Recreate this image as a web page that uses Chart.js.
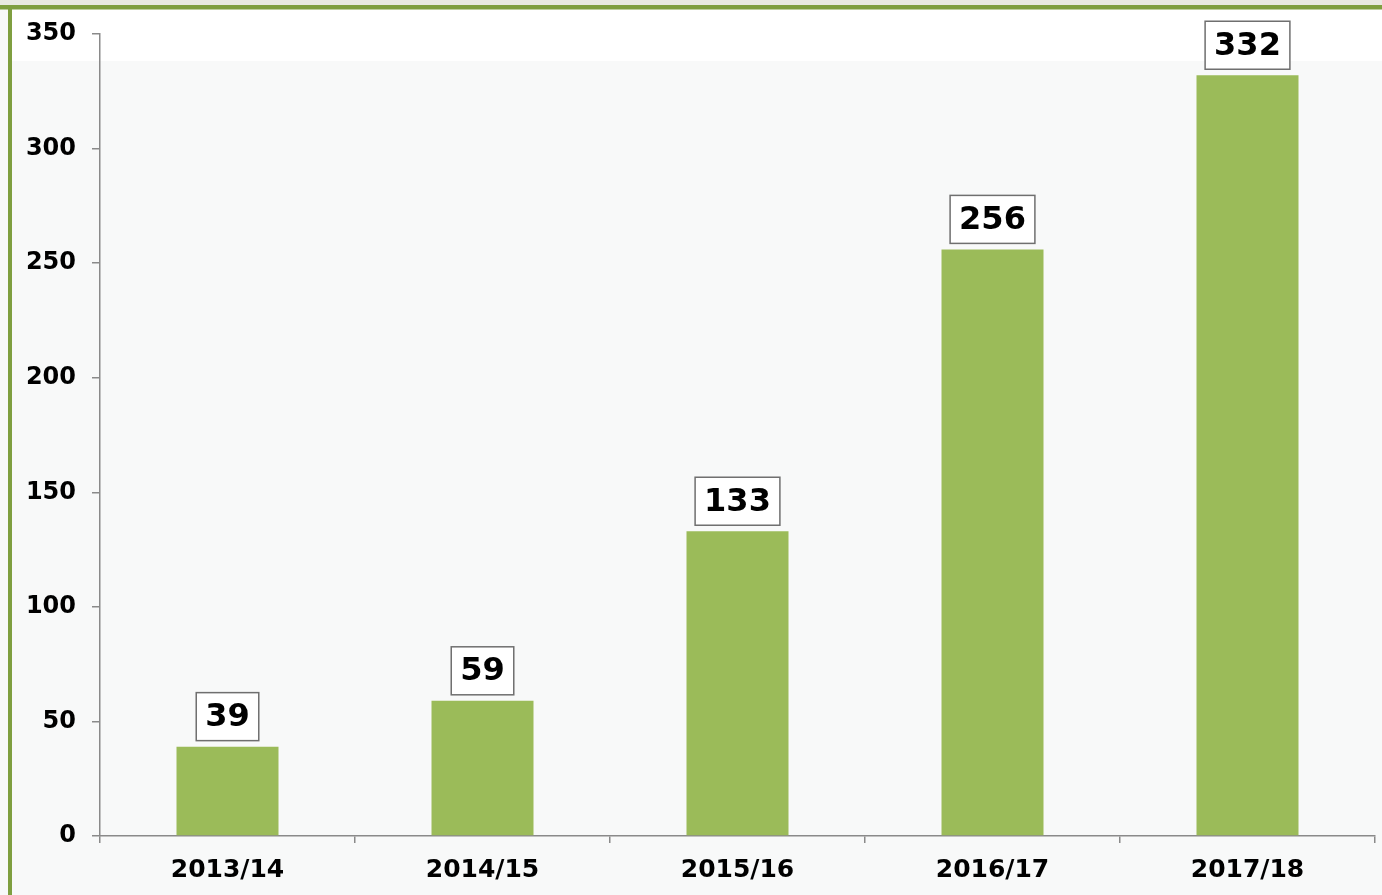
<!DOCTYPE html>
<html>
<head>
<meta charset="utf-8">
<script src="https://cdn.jsdelivr.net/npm/chart.js@4"></script>
<style>
html,body{margin:0;padding:0;background:#fafafa;}
#wrap{position:relative;width:1382px;height:895px;}
</style>
</head>
<body>
<div id="wrap"><canvas id="c" width="1382" height="895"></canvas></div>
<script>
const categories = ['2013/14', '2014/15', '2015/16', '2016/17', '2017/18'];
const values = [39, 59, 133, 256, 332];
const yTicks = [0, 50, 100, 150, 200, 250, 300, 350];

const FONT = "'DejaVu Sans', Verdana, sans-serif";

const frame = {
  id: 'frame',
  beforeDraw(chart) {
    const ctx = chart.ctx, w = chart.width, h = chart.height;
    ctx.save();
    ctx.fillStyle = '#e9eae2';
    ctx.fillRect(0, 0, w, 5);
    ctx.fillStyle = '#f8f9f9';
    ctx.fillRect(0, 5, w, h - 5);
    ctx.fillStyle = '#ffffff';
    ctx.fillRect(12, 9, w - 12, 52);
    ctx.fillStyle = '#7f9f40';
    ctx.fillRect(0, 5, w, 4.5);
    ctx.fillRect(8, 5, 4, h - 5);
    ctx.restore();
  }
};

const boxLabels = {
  id: 'boxLabels',
  afterDatasetsDraw(chart) {
    const ctx = chart.ctx;
    const meta = chart.getDatasetMeta(0);
    ctx.save();
    ctx.font = 'bold 32px ' + FONT;
    ctx.textAlign = 'center';
    ctx.textBaseline = 'middle';
    meta.data.forEach((bar, i) => {
      const txt = String(chart.data.datasets[0].data[i]);
      const tw = ctx.measureText(txt).width;
      const bw = tw + 18, bh = 48;
      const bx = bar.x - bw / 2, by = bar.y - 6 - bh;
      ctx.fillStyle = '#ffffff';
      ctx.fillRect(bx, by, bw, bh);
      ctx.strokeStyle = '#6f6f6f';
      ctx.lineWidth = 1.5;
      ctx.strokeRect(bx, by, bw, bh);
      ctx.fillStyle = '#000000';
      ctx.fillText(txt, bar.x, by + bh / 2 + 1);
    });
    ctx.restore();
  }
};

new Chart(document.getElementById('c'), {
  type: 'bar',
  data: {
    labels: categories,
    datasets: [{
      data: values,
      backgroundColor: '#9bbb59',
      borderWidth: 0,
      barPercentage: 0.8,
      categoryPercentage: 0.5
    }]
  },
  options: {
    responsive: false,
    animation: false,
    devicePixelRatio: 1,
    layout: { padding: { top: 34, right: 7, left: 0, bottom: 0 } },
    plugins: { legend: { display: false }, tooltip: { enabled: false } },
    scales: {
      x: {
        offset: true,
        grid: { offset: true, drawOnChartArea: false, drawTicks: true, tickLength: 7, tickColor: '#8a8a8a', lineWidth: 1.5 },
        border: { color: '#8a8a8a', width: 1.5 },
        ticks: { color: '#000', font: { family: FONT, size: 25, weight: 'bold' }, padding: 12, maxRotation: 0 },
        afterFit(s) { s.height = 59; }
      },
      y: {
        min: 0, max: 350,
        afterBuildTicks(s) { s.ticks = yTicks.map(v => ({ value: v })); },
        grid: { drawOnChartArea: false, drawTicks: true, tickLength: 8, tickColor: '#8a8a8a', lineWidth: 1.5 },
        border: { color: '#8a8a8a', width: 1.5 },
        ticks: { color: '#000', font: { family: FONT, size: 24, weight: 'bold' }, padding: 16 },
        afterFit(s) { s.width = 100; }
      }
    }
  },
  plugins: [frame, boxLabels]
});
</script>
</body>
</html>
